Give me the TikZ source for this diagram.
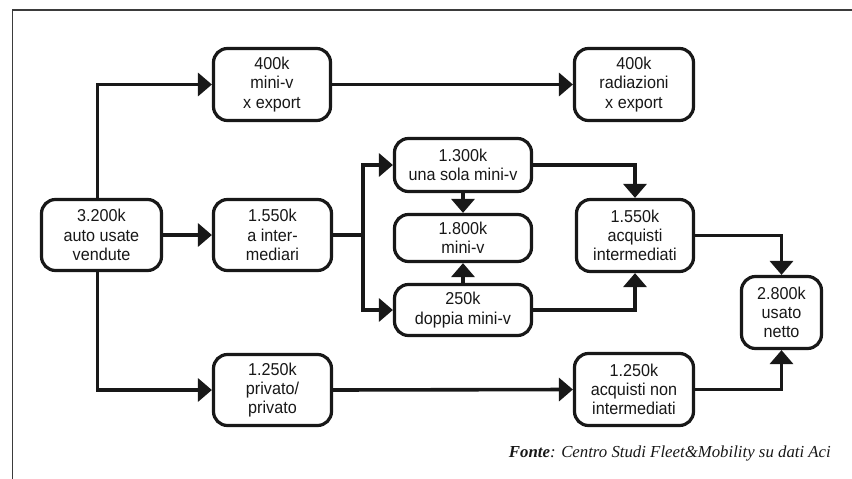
\documentclass[tikz,border=0pt]{standalone}
\usepackage{fontspec}
\setmainfont{Liberation Sans}[FakeStretch=0.94]
\newfontfamily\footfont{Liberation Serif}
\usetikzlibrary{arrows.meta}
\definecolor{ink}{RGB}{24,24,24}
\begin{document}
\begin{tikzpicture}[x=1pt,y=-1pt,
  box/.style={draw=ink, line width=3.2pt, rounded corners=14pt, align=center, inner sep=0pt,
    font=\fontsize{17.2}{19.2}\selectfont, text=ink},
  conn/.style={draw=ink, line width=3.6pt},
  arr/.style={conn, -{Triangle[length=14pt,width=23pt]}}]
\useasboundingbox (0,0) rectangle (852,479);
\fill[white] (0,0) rectangle (852,479);
% frame
\draw[line width=1.5pt, color=ink!85] (852,10) -- (12.5,10) -- (12.5,479);
% nodes
\node[box, minimum width=120pt, minimum height=71pt] (A) at (101.5,235) {3.200k\\auto usate\\vendute};
\node[box, minimum width=117pt, minimum height=72pt] (B) at (272,84.5) {400k\\mini-v\\x export};
\node[box, minimum width=119pt, minimum height=72pt] (C) at (634,84.5) {400k\\radiazioni\\x export};
\node[box, minimum width=118pt, minimum height=71pt] (D) at (272.5,235) {1.550k\\a inter-\\mediari};
\node[box, minimum width=137pt, minimum height=53pt] (E) at (463,165) {1.300k\\una sola mini-v};
\node[box, minimum width=137pt, minimum height=47pt] (F) at (463,238) {1.800k\\mini-v};
\node[box, minimum width=137pt, minimum height=51pt] (G) at (463,310) {250k\\doppia mini-v};
\node[box, minimum width=117pt, minimum height=72pt] (H) at (635,235.5) {1.550k\\acquisti\\intermediati};
\node[box, minimum width=80pt, minimum height=72pt] (I) at (781.5,312.5) {2.800k\\usato\\netto};
\node[box, minimum width=118pt, minimum height=71pt] (J) at (272.5,390) {1.250k\\privato/\\privato};
\node[box, minimum width=119pt, minimum height=72pt] (K) at (634,389.5) {1.250k\\acquisti non\\intermediati};
% connectors
\draw[arr] ([xshift=-4pt]A.north) |- (B.west);
\draw[arr] ([xshift=-4pt]A.south) |- (J.west);
\draw[arr] (A.east) -- (D.west);
\draw[arr] (B.east) -- (C.west);
\draw[arr] (D.east) -- ++(30,0) |- (E.west);
\draw[arr] (D.east) -- ++(30,0) |- (G.west);
\draw[arr] (E.south) -- (F.north);
\draw[arr] (G.north) -- (F.south);
\draw[arr] (E.east) -| (H.north);
\draw[arr] (G.east) -| (H.south);
\draw[arr] (H.east) -| (I.north);
\draw[arr] (J.east) -- (K.west);
\draw[arr] (K.east) -| (I.south);
% source
\node[anchor=base east, inner sep=0pt, text=ink] (src) at (831,457)
  {\footfont\itshape\fontsize{16.8}{19}\selectfont\textbf{Fonte}: Centro Studi Fleet\&Mobility su dati Aci};
\end{tikzpicture}
\end{document}
